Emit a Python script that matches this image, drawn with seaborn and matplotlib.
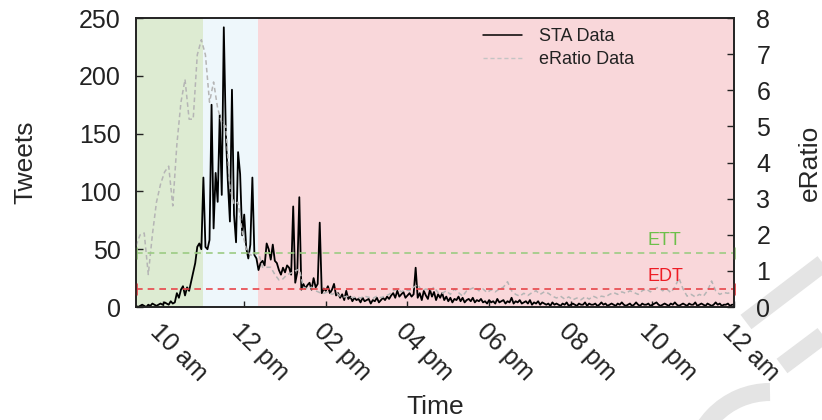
#!/usr/bin/env python3

# plot.py
#
# Tweet volume (STA) and eRatio over one day, with the event phases shaded.
import matplotlib
matplotlib.use('Agg')
import matplotlib.pyplot as plt
import matplotlib.patches as patches
import matplotlib.transforms as transforms
import pandas as pd
import seaborn as sb

# STA data, tweets per 3 minute bin starting at 09:21
STA_START = '2013-04-15 09:21'
STA = [
  1, 0, 1, 2, 1, 0, 2, 1, 3, 2, 1, 2, 3, 2, 4, 3, 2, 5, 3, 4,
  12, 8, 15, 18, 10, 17, 14, 22, 30, 38, 52, 55, 50, 112, 52, 50, 58, 175, 68, 116,
  91, 166, 97, 242, 150, 108, 74, 188, 80, 56, 134, 115, 62, 80, 51, 42, 54, 112, 45, 42,
  32, 38, 40, 36, 55, 50, 41, 54, 40, 38, 32, 28, 34, 30, 36, 34, 28, 87, 21, 30,
  95, 15, 20, 16, 19, 21, 15, 25, 17, 20, 73, 12, 16, 14, 18, 12, 15, 20, 10, 12,
  8, 11, 6, 14, 7, 9, 5, 8, 6, 7, 4, 8, 5, 6, 7, 3, 6, 5, 8, 4,
  6, 8, 6, 9, 7, 10, 12, 8, 14, 9, 11, 13, 8, 10, 12, 9, 11, 34, 8, 12,
  6, 14, 10, 7, 15, 9, 13, 6, 11, 8, 12, 6, 9, 5, 8, 4, 7, 6, 9, 5,
  8, 4, 6, 7, 5, 8, 4, 6, 5, 7, 4, 5, 3, 6, 4, 5, 3, 7, 4, 5,
  6, 3, 5, 4, 8, 3, 5, 4, 6, 3, 4, 5, 3, 6, 2, 4, 3, 5, 2, 4,
  3, 2, 3, 1, 4, 2, 3, 2, 1, 3, 2, 4, 1, 2, 3, 2, 1, 3, 2, 2,
  4, 1, 3, 2, 2, 3, 1, 2, 4, 2, 3, 1, 2, 3, 2, 1, 3, 2, 4, 2,
  1, 2, 3, 1, 2, 4, 2, 1, 3, 2, 2, 3, 1, 2, 3, 4, 2, 1, 2, 3,
  2, 1, 3, 2, 4, 2, 1, 2, 3, 2, 1, 3, 2, 2, 4, 1, 2, 3, 2, 1,
  3, 2, 1, 2, 4, 2, 3, 1, 2, 2, 3, 1, 2, 2,
]

# eRatio data, one value per 6 minutes starting at 09:21
ERATIO = [
  1.7, 2.0, 2.05, 0.9, 2.0, 2.9, 3.4, 3.74, 3.9, 2.8, 4.5, 5.67, 6.3, 5.2, 5.2, 6.98, 7.4, 6.98, 5.67, 6.23,
  5.5, 5.1, 5.0, 3.3, 2.85, 2.9, 2.1, 1.6, 1.44, 1.44, 1.5, 1.1, 1.1, 1.1, 0.9, 0.75, 0.78, 0.9, 0.94, 1.0,
  1.05, 0.55, 0.5, 0.55, 0.45, 0.4, 0.38, 0.42, 0.35, 0.4, 0.3, 0.28, 0.3, 0.26, 0.28, 0.25, 0.3, 0.27, 0.24, 0.3,
  0.26, 0.3, 0.35, 0.45, 0.5, 0.42, 0.48, 0.45, 0.55, 0.62, 0.45, 0.5, 0.45, 0.55, 0.4, 0.38, 0.45, 0.35, 0.5, 0.4,
  0.3, 0.45, 0.5, 0.55, 0.45, 0.5, 0.4, 0.48, 0.42, 0.5, 0.55, 0.7, 0.45, 0.35, 0.3, 0.38, 0.32, 0.4, 0.45, 0.35,
  0.42, 0.38, 0.3, 0.25, 0.3, 0.22, 0.28, 0.2, 0.25, 0.2, 0.28, 0.22, 0.3, 0.25, 0.3, 0.28, 0.35, 0.4, 0.35, 0.42,
  0.38, 0.45, 0.4, 0.35, 0.45, 0.5, 0.42, 0.5, 0.55, 0.45, 0.5, 0.4, 0.55, 0.8, 0.5, 0.3, 0.35, 0.28, 0.35, 0.3,
  0.45, 0.72, 0.45, 0.35, 0.4, 0.38, 0.42,
]

# Event phases: start, end, colour
PHASES = [
  ['2013-04-15 09:21', '2013-04-15 11:00', '#ddebd2'],
  ['2013-04-15 11:00', '2013-04-15 12:20', '#eef7fb'],
  ['2013-04-15 12:20', '2013-04-16 00:00', '#f9d7da'],
]

# Thresholds on the eRatio axis: label, value, line colour, text colour
THRESHOLDS = [
  ['ETT', 1.5, '#9ccb83', '#6cbf4a'],
  ['EDT', 0.5, '#e8464b', '#ee1c25'],
]

X_TICKS = pd.date_range('2013-04-15 10:00', '2013-04-16 00:00', freq='2h')
X_LABELS = ['10 am', '12 pm', '02 pm', '04 pm', '06 pm', '08 pm', '10 pm', '12 am']
LEFT_TICKS = [0, 50, 100, 150, 200, 250]
RIGHT_TICKS = [0, 1, 2, 3, 4, 5, 6, 7, 8]


def add_watermark(figure):
  # Fragment of the pale draft stamp in the lower right corner (figure pixels)
  width, height = 822.0, 420.0
  colour = '#e4e4e4'
  arc = patches.Arc((770 / width, 1 - 470 / height), 2 * 78 / width, 2 * 78 / height,
                    theta1=90, theta2=185, lw=13, color=colour,
                    transform=figure.transFigure, zorder=-10)
  figure.add_artist(arc)
  for (x0, y0), (x1, y1) in [((746, 322), (830, 258)), ((782, 366), (830, 330))]:
    figure.add_artist(plt.Line2D([x0 / width, x1 / width], [1 - y0 / height, 1 - y1 / height],
                                 lw=13, color=colour, solid_capstyle='butt',
                                 transform=figure.transFigure, zorder=-10))


def main():
  sta_times = pd.date_range(STA_START, periods=len(STA), freq='3min')
  eratio_times = pd.date_range(STA_START, periods=len(ERATIO), freq='6min')
  x_min, x_max = pd.Timestamp(PHASES[0][0]), pd.Timestamp(PHASES[-1][1])

  sb.set_style('ticks')
  plt.rcParams['font.family'] = ['Liberation Sans', 'DejaVu Sans']
  plt.rcParams['text.color'] = '#222222'

  figure = plt.figure(figsize=(8.22, 4.2), dpi=100)
  add_watermark(figure)
  axis = figure.add_axes([0.1655, 0.269, 0.7275, 0.688])

  # Shade the phases
  for start, end, colour in PHASES:
    axis.axvspan(pd.Timestamp(start), pd.Timestamp(end), color=colour, lw=0, zorder=0)

  # Tweet volume on the left axis
  sb.lineplot(x=sta_times, y=STA, ax=axis, color='black', lw=1.3, legend=False)
  axis.set_xlim(x_min, x_max)
  axis.set_ylim(0, 250)

  # eRatio on the right axis
  right = axis.twinx()
  sb.lineplot(x=eratio_times, y=ERATIO, ax=right, color='#b5b5b5', lw=1.1,
              linestyle=(0, (3, 2)), legend=False)
  right.set_ylim(0, 8)
  right.set_xlim(x_min, x_max)

  # Threshold lines, little marks on the spines and their labels
  blend = transforms.blended_transform_factory(right.transAxes, right.transData)
  for label, value, colour, text_colour in THRESHOLDS:
    right.axhline(value, color=colour, lw=1.2, ls=(0, (4, 3)))
    right.plot([x_min, x_max], [value, value], ls='none', marker='|', ms=8, mew=2,
               color=colour, clip_on=False)
    right.text(0.855, value + 0.22, label, transform=blend, color=text_colour,
               fontsize=13, va='baseline', ha='left')

  # Legend
  handles = [
    plt.Line2D([], [], color='black', lw=1.1),
    plt.Line2D([], [], color='#c4c4c4', lw=1.0, ls=(0, (3, 2))),
  ]
  right.legend(handles, ['STA Data', 'eRatio Data'], loc='upper left',
               bbox_to_anchor=(0.58, 0.965), frameon=False, fontsize=13,
               handlelength=2.15, handletextpad=0.95, labelspacing=0.35,
               borderpad=0, borderaxespad=0)

  # Format the axes
  axis.set_xticks(X_TICKS)
  axis.set_xticklabels(X_LABELS, rotation=-45, ha='left', rotation_mode='anchor', fontsize=18)
  shift = transforms.ScaledTranslation(4 / 72, 0, figure.dpi_scale_trans)
  for label in axis.get_xticklabels():
    label.set_transform(label.get_transform() + shift)
  axis.set_yticks(LEFT_TICKS)
  axis.set_yticklabels([str(v) for v in LEFT_TICKS], fontsize=18)
  right.set_yticks(RIGHT_TICKS)
  right.set_yticklabels([str(v) for v in RIGHT_TICKS], fontsize=18)
  axis.tick_params(axis='y', direction='in', length=5, width=1, pad=11, colors='#222222')
  axis.tick_params(axis='x', direction='in', length=4, width=1, pad=9, colors='#222222')
  right.tick_params(axis='y', direction='in', length=5, width=1, pad=16, colors='#222222')
  for spine in list(axis.spines.values()) + list(right.spines.values()):
    spine.set_linewidth(1.2)
    spine.set_color('#222222')

  axis.set_xlabel('Time', fontsize=19, labelpad=7)
  axis.set_ylabel('Tweets', fontsize=19, labelpad=30)
  right.set_ylabel('eRatio', fontsize=19, labelpad=20)

  plt.savefig('out.png', dpi=100)
  plt.close()


if __name__ == '__main__':
  main()
